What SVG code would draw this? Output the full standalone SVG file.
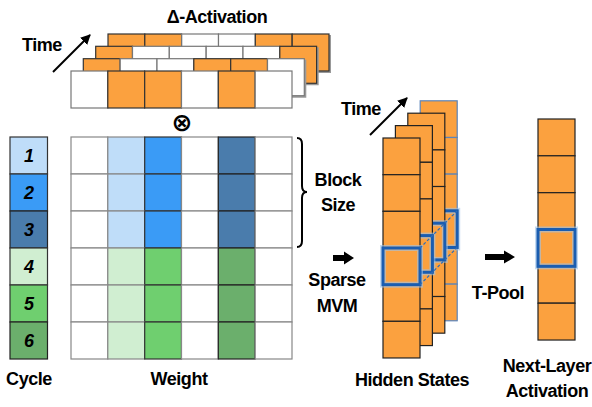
<svg xmlns="http://www.w3.org/2000/svg" width="592" height="407" viewBox="0 0 592 407">
<style>
text{font-family:"Liberation Sans",Arial,sans-serif;font-weight:bold;fill:#000;}
.lbl{font-size:18px;letter-spacing:-0.45px;text-anchor:middle;}
.num{font-size:18px;font-style:italic;text-anchor:middle;}
.o{fill:#FBA13F;stroke:#333;stroke-width:1.2;}
.w{fill:#fff;stroke:#777;stroke-width:1.2;}
.g{fill:#fff;stroke:#888;stroke-width:1.2;}
.lb{fill:#BFDDF9;stroke:#888;stroke-width:1.2;}
.b{fill:#3A9BF6;stroke:#333;stroke-width:1.2;}
.db{fill:#4A7CAC;stroke:#222;stroke-width:1.2;}
.lg{fill:#D0EED1;stroke:#888;stroke-width:1.2;}
.gr{fill:#6FCF6F;stroke:#333;stroke-width:1.2;}
.dg{fill:#6BAF6C;stroke:#222;stroke-width:1.2;}
.h{fill:#FBA13F;stroke:#222;stroke-width:1.2;}
.hb{fill:#FBA13F;stroke:#5B84BA;stroke-width:1.2;}
.hl{fill:none;stroke:#1A5DB0;stroke-width:3;}
.glow{fill:none;stroke:#9CC3EA;stroke-width:6;opacity:0.6;}
.dash{fill:none;stroke:#2E6DB8;stroke-width:1.2;stroke-dasharray:3 2;}
.thin{fill:none;stroke:#000;stroke-width:2;}
.sh{fill:none;stroke:#999;stroke-width:2;}
</style>
<defs>
<marker id="ah" viewBox="0 0 10 10" refX="9" refY="5" markerWidth="5" markerHeight="5" orient="auto">
<path d="M0,0 L10,5 L0,10 z" fill="#000"/>
</marker>
</defs>

<g id="title">
<text class="lbl" x="217" y="23">Δ-Activation</text>
<text class="lbl" x="42" y="51">Time</text>
</g>

<g id="delta-activation">
<g id="delta-t4">
<polyline class="sh" points="330,35 330,72 121,72"/>
<rect class="o" x="108" y="34" width="36.8" height="37"/>
<rect class="o" x="144.8" y="34" width="36.8" height="37"/>
<rect class="w" x="181.7" y="34" width="36.8" height="37"/>
<rect class="w" x="218.5" y="34" width="36.8" height="37"/>
<rect class="o" x="255.3" y="34" width="36.8" height="37"/>
<rect class="o" x="292.2" y="34" width="36.8" height="37"/>
</g>
<g id="delta-t3">
<polyline class="sh" points="317.7,47.3 317.7,84.3 108,84.3"/>
<rect class="o" x="95.7" y="46.3" width="36.8" height="37"/>
<rect class="w" x="132.5" y="46.3" width="36.8" height="37"/>
<rect class="w" x="169.3" y="46.3" width="36.8" height="37"/>
<rect class="w" x="206.2" y="46.3" width="36.8" height="37"/>
<rect class="w" x="243" y="46.3" width="36.8" height="37"/>
<rect class="o" x="279.8" y="46.3" width="36.8" height="37"/>
</g>
<g id="delta-t2">
<polyline class="sh" points="305.3,59.7 305.3,96.7 96,96.7"/>
<rect class="o" x="83.3" y="58.7" width="36.8" height="37"/>
<rect class="w" x="120.2" y="58.7" width="36.8" height="37"/>
<rect class="w" x="157" y="58.7" width="36.8" height="37"/>
<rect class="o" x="193.8" y="58.7" width="36.8" height="37"/>
<rect class="o" x="230.7" y="58.7" width="36.8" height="37"/>
<rect class="w" x="267.5" y="58.7" width="36.8" height="37"/>
</g>
<g id="delta-t1">
<rect class="w" x="71" y="71" width="36.8" height="37"/>
<rect class="o" x="107.8" y="71" width="36.8" height="37"/>
<rect class="o" x="144.7" y="71" width="36.8" height="37"/>
<rect class="w" x="181.5" y="71" width="36.8" height="37"/>
<rect class="o" x="218.3" y="71" width="36.8" height="37"/>
<rect class="w" x="255.2" y="71" width="36.8" height="37"/>
</g>
</g>

<g id="otimes">
<text x="182" y="131" style="font-family:'DejaVu Sans',sans-serif;font-size:25px;text-anchor:middle;">⊗</text>
</g>

<g id="cycle">
<rect class="lb" x="10" y="137" width="37.5" height="37" style="stroke:#333"/>
<rect class="b" x="10" y="174" width="37.5" height="37"/>
<rect class="db" x="10" y="211" width="37.5" height="37"/>
<rect class="lg" x="10" y="248" width="37.5" height="37" style="stroke:#333"/>
<rect class="gr" x="10" y="285" width="37.5" height="37"/>
<rect class="dg" x="10" y="322" width="37.5" height="37"/>
<text class="num" x="29" y="162">1</text>
<text class="num" x="29" y="199">2</text>
<text class="num" x="29" y="236">3</text>
<text class="num" x="29" y="273">4</text>
<text class="num" x="29" y="310">5</text>
<text class="num" x="29" y="347">6</text>
<text class="lbl" x="29" y="385">Cycle</text>
</g>

<g id="weight">
<g>
<rect class="g" x="71" y="137" width="36.8" height="37"/><rect class="lb" x="107.8" y="137" width="36.8" height="37"/><rect class="b" x="144.7" y="137" width="36.8" height="37"/><rect class="g" x="181.5" y="137" width="36.8" height="37"/><rect class="db" x="218.3" y="137" width="36.8" height="37"/><rect class="g" x="255.2" y="137" width="36.8" height="37"/>
<rect class="g" x="71" y="174" width="36.8" height="37"/><rect class="lb" x="107.8" y="174" width="36.8" height="37"/><rect class="b" x="144.7" y="174" width="36.8" height="37"/><rect class="g" x="181.5" y="174" width="36.8" height="37"/><rect class="db" x="218.3" y="174" width="36.8" height="37"/><rect class="g" x="255.2" y="174" width="36.8" height="37"/>
<rect class="g" x="71" y="211" width="36.8" height="37"/><rect class="lb" x="107.8" y="211" width="36.8" height="37"/><rect class="b" x="144.7" y="211" width="36.8" height="37"/><rect class="g" x="181.5" y="211" width="36.8" height="37"/><rect class="db" x="218.3" y="211" width="36.8" height="37"/><rect class="g" x="255.2" y="211" width="36.8" height="37"/>
<rect class="g" x="71" y="248" width="36.8" height="37"/><rect class="lg" x="107.8" y="248" width="36.8" height="37"/><rect class="gr" x="144.7" y="248" width="36.8" height="37"/><rect class="g" x="181.5" y="248" width="36.8" height="37"/><rect class="dg" x="218.3" y="248" width="36.8" height="37"/><rect class="g" x="255.2" y="248" width="36.8" height="37"/>
<rect class="g" x="71" y="285" width="36.8" height="37"/><rect class="lg" x="107.8" y="285" width="36.8" height="37"/><rect class="gr" x="144.7" y="285" width="36.8" height="37"/><rect class="g" x="181.5" y="285" width="36.8" height="37"/><rect class="dg" x="218.3" y="285" width="36.8" height="37"/><rect class="g" x="255.2" y="285" width="36.8" height="37"/>
<rect class="g" x="71" y="322" width="36.8" height="37"/><rect class="lg" x="107.8" y="322" width="36.8" height="37"/><rect class="gr" x="144.7" y="322" width="36.8" height="37"/><rect class="g" x="181.5" y="322" width="36.8" height="37"/><rect class="dg" x="218.3" y="322" width="36.8" height="37"/><rect class="g" x="255.2" y="322" width="36.8" height="37"/>
</g>
<text class="lbl" x="179" y="385">Weight</text>
</g>

<g id="block-size">
<path class="thin" d="M297,138 Q302,138 302,144 L302,186 Q302,192 307,192 Q302,192 302,198 L302,241 Q302,247 297,247"/>
<text class="lbl" x="338" y="186">Block</text>
<text class="lbl" x="338" y="211">Size</text>
</g>

<g id="sparse-mvm">
<text class="lbl" x="337" y="286">Sparse</text>
<text class="lbl" x="337" y="312">MVM</text>
</g>

<g id="hidden-states">
<g id="hs-t4">
<rect class="hb" x="420.2" y="100.8" width="37" height="36.67"/>
<rect class="hb" x="420.2" y="137.5" width="37" height="36.67"/>
<rect class="hb" x="420.2" y="174.1" width="37" height="36.67"/>
<rect class="hb" x="420.2" y="210.8" width="37" height="36.67"/>
<rect class="hb" x="420.2" y="247.5" width="37" height="36.67"/>
<rect class="hb" x="420.2" y="284.1" width="37" height="36.67"/>
<rect class="glow" x="420.2" y="210.8" width="37" height="36.67"/>
<rect class="hl" x="420.2" y="210.8" width="37" height="36.67"/>
</g>
<g id="hs-t3">
<rect class="h" x="407.8" y="113.2" width="37" height="36.67"/>
<rect class="h" x="407.8" y="149.9" width="37" height="36.67"/>
<rect class="h" x="407.8" y="186.5" width="37" height="36.67"/>
<rect class="h" x="407.8" y="223.2" width="37" height="36.67"/>
<rect class="h" x="407.8" y="259.9" width="37" height="36.67"/>
<rect class="h" x="407.8" y="296.5" width="37" height="36.67"/>
<rect class="glow" x="407.8" y="223.2" width="37" height="36.67"/>
<rect class="hl" x="407.8" y="223.2" width="37" height="36.67"/>
</g>
<g id="hs-t2">
<rect class="h" x="395.4" y="125.6" width="37" height="36.67"/>
<rect class="h" x="395.4" y="162.3" width="37" height="36.67"/>
<rect class="h" x="395.4" y="198.9" width="37" height="36.67"/>
<rect class="h" x="395.4" y="235.6" width="37" height="36.67"/>
<rect class="h" x="395.4" y="272.3" width="37" height="36.67"/>
<rect class="h" x="395.4" y="308.9" width="37" height="36.67"/>
<rect class="glow" x="395.4" y="235.6" width="37" height="36.67"/>
<rect class="hl" x="395.4" y="235.6" width="37" height="36.67"/>
</g>
<g id="hs-t1">
<rect class="h" x="383" y="138" width="37" height="36.67"/>
<rect class="h" x="383" y="174.7" width="37" height="36.67"/>
<rect class="h" x="383" y="211.3" width="37" height="36.67"/>
<rect class="h" x="383" y="248" width="37" height="36.67"/>
<rect class="h" x="383" y="284.7" width="37" height="36.67"/>
<rect class="h" x="383" y="321.3" width="37" height="36.67"/>
<rect class="glow" x="383" y="248" width="37" height="36.67"/>
<rect class="hl" x="383" y="248" width="37" height="36.67"/>
</g>
<text class="lbl" x="412" y="386">Hidden States</text>
<text class="lbl" x="361" y="115">Time</text>
</g>

<g id="t-pool">
<text class="lbl" x="498" y="299">T-Pool</text>
</g>

<g id="next-layer">
<rect class="h" x="538" y="119" width="37" height="36.83"/>
<rect class="h" x="538" y="155.8" width="37" height="36.83"/>
<rect class="h" x="538" y="192.7" width="37" height="36.83"/>
<rect class="h" x="538" y="229.5" width="37" height="36.83"/>
<rect class="h" x="538" y="266.3" width="37" height="36.83"/>
<rect class="h" x="538" y="303.2" width="37" height="36.83"/>
<rect class="glow" x="538" y="229.5" width="37" height="36.83"/>
<rect class="hl" x="538" y="229.5" width="37" height="36.83"/>
<text class="lbl" x="547" y="372">Next-Layer</text>
<text class="lbl" x="547" y="397">Activation</text>
</g>

<g id="connectors">
<line class="thin" x1="53" y1="72" x2="90" y2="35" marker-end="url(#ah)"/>
<line class="thin" x1="370" y1="135" x2="407" y2="98" marker-end="url(#ah)"/>
<line class="dash" x1="420" y1="248" x2="457.2" y2="210.8"/>
<line class="dash" x1="420" y1="284.7" x2="457.2" y2="247.5"/>
<path d="M333,255 L344,255 L344,251.5 L354,258 L344,264.5 L344,261 L333,261 z" fill="#000"/>
<path d="M485,254 L504,254 L504,250.5 L515,257 L504,263.5 L504,260 L485,260 z" fill="#000"/>
</g>
</svg>
